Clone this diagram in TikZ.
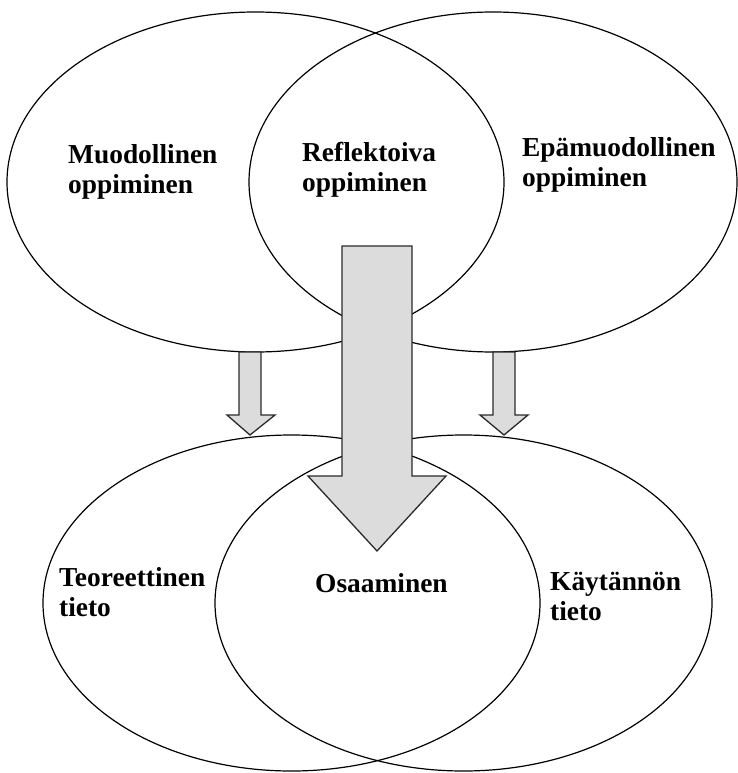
\documentclass[tikz,border=0pt]{standalone}
\usepackage{fontspec}
\setmainfont{Liberation Serif}
\usetikzlibrary{shapes.geometric}

\definecolor{arrowfill}{HTML}{DCDCDC}
\definecolor{arrowline}{HTML}{2A2A2A}

% two stacked lines whose first baseline is the box baseline
\newcommand{\twolines}[2]{\vtop{\hbox{#1}\hbox{#2}}}

\begin{document}
\begin{tikzpicture}[x=1pt, y=-1pt,
  area/.style={draw=black, line width=1.2pt, ellipse, inner sep=0pt},
  label/.style={anchor=base west, inner sep=0pt, text=black,
    font=\fontsize{27.4}{30}\selectfont\bfseries},
  blockarrow/.style={fill=arrowfill, draw=arrowline, line width=1.3pt, line join=miter}]

  \useasboundingbox (0,0) rectangle (737,773);

  % learning forms (top) and knowledge forms (bottom)
  \node[area, minimum width=497pt, minimum height=340pt] (formal)   at (255.5,182) {};
  \node[area, minimum width=488pt, minimum height=340pt] (informal) at (493,182) {};
  \node[area, minimum width=497pt, minimum height=336pt] (theory)   at (291.5,603) {};
  \node[area, minimum width=497pt, minimum height=336pt] (practice) at (463.5,603) {};

  % small block arrows from each learning form to its kind of knowledge
  \draw[blockarrow] (239,352) -- (261,352) -- (261,415) -- (275,415) -- (250,435)
    -- (227,415) -- (239,415) -- cycle;
  \draw[blockarrow] (493,352) -- (515,352) -- (515,415) -- (528,415) -- (504,435)
    -- (480,415) -- (493,415) -- cycle;

  % large block arrow from reflective learning down to competence
  \draw[blockarrow] (342,246) -- (412,246) -- (412,476) -- (446,476) -- (377,551)
    -- (308,476) -- (342,476) -- cycle;

  % labels
  \node[label] (tformal)    at (68,163)  {\twolines{Muodollinen}{oppiminen}};
  \node[label] (treflect)   at (302,161) {\twolines{Reflektoiva}{oppiminen}};
  \node[label] (tinformal)  at (522,156) {\twolines{Epämuodollinen}{oppiminen}};
  \node[label] (ttheory)    at (59,586)  {\twolines{Teoreettinen}{tieto}};
  \node[label] (tcompetence) at (315,592) {Osaaminen};
  \node[label] (tpractice)  at (550,590) {\twolines{Käytännön}{tieto}};
\end{tikzpicture}
\end{document}
